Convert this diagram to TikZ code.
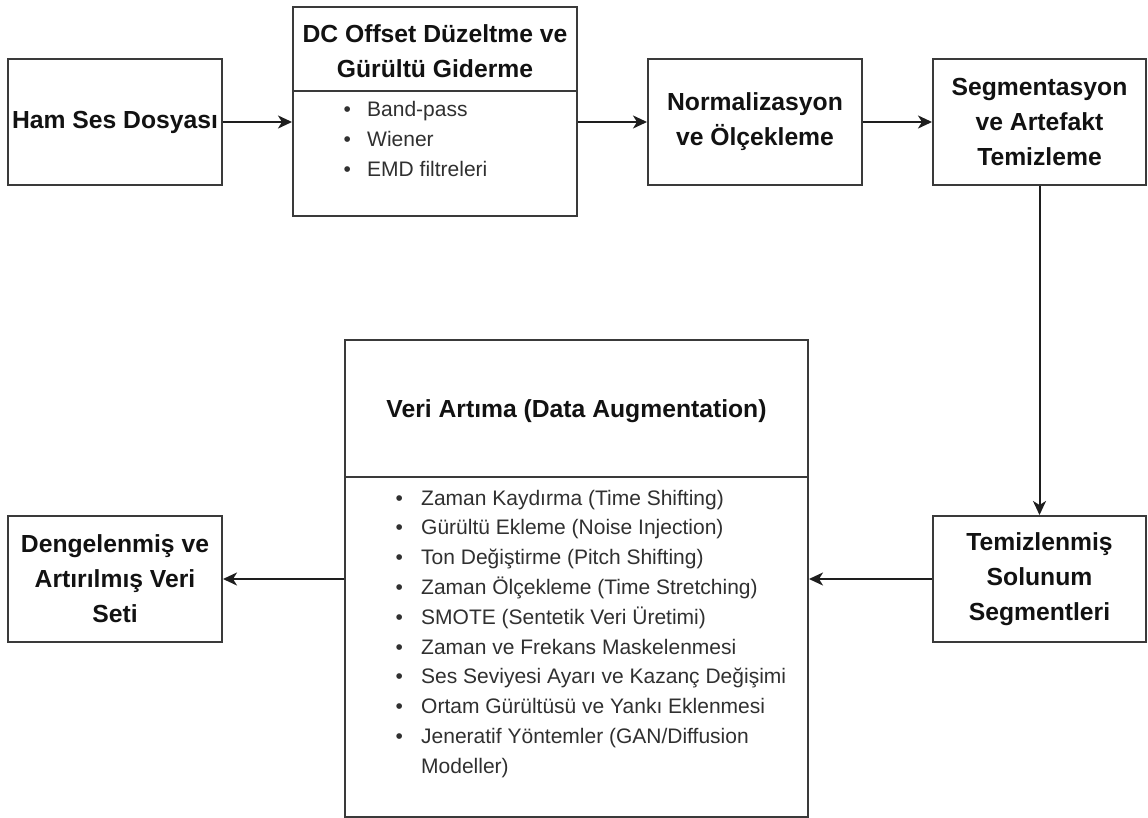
\documentclass[tikz,border=0pt]{standalone}
\usepackage{fontspec}
\setmainfont{Liberation Sans}
\usetikzlibrary{arrows.meta}
\definecolor{boxline}{HTML}{3A3A3A}
\definecolor{headtxt}{HTML}{121212}
\definecolor{bodytxt}{HTML}{303030}
\definecolor{arrowcol}{HTML}{1E1E1E}
\begin{document}
\begin{tikzpicture}[x=1pt,y=-1pt,
  box/.style={rectangle, draw=boxline, line width=2pt, fill=white, inner sep=0pt},
  head/.style={font=\fontsize{24.7}{35}\selectfont\bfseries, text=headtxt, align=center},
  item/.style={font=\fontsize{21}{30}\selectfont, text=bodytxt, anchor=base west, inner sep=0pt},
  flow/.style={draw=arrowcol, line width=2pt, -{Stealth[length=14pt,width=13pt,inset=4pt]}},
  sep/.style={draw=boxline, line width=2pt}]
\useasboundingbox (0,0) rectangle (1148,818);
\fill[white] (0,0) rectangle (1148,818);

% top row
\node[box, head, minimum width=214pt, minimum height=126pt] (ham) at (115,122) {Ham Ses Dosyası};
\node[box, minimum width=284pt, minimum height=209pt] (dc) at (435,111.5) {};
\draw[sep] (dc.west |- 0,91) -- (dc.east |- 0,91);
\node[head] (dchead) at (435,51) {DC Offset Düzeltme ve\\Gürültü Giderme};
\foreach \t [count=\i] in {{Band-pass},{Wiener},{EMD filtreleri}}
  \node[item] (dcb\i) at (343.5,{117+29.8*(\i-1)}) {\makebox[23.5pt][l]{•}\t};
\node[box, head, minimum width=214pt, minimum height=126pt] (norm) at (755,122) {Normalizasyon\\ve Ölçekleme};
\node[box, head, minimum width=213pt, minimum height=126pt] (seg) at (1039.5,122) {Segmentasyon\\ve Artefakt\\Temizleme};

% bottom row
\node[box, head, minimum width=213pt, minimum height=126pt] (tem) at (1039.5,579) {Temizlenmiş\\Solunum\\Segmentleri};
\node[box, minimum width=463pt, minimum height=477pt] (big) at (576.5,578.5) {};
\draw[sep] (big.west |- 0,477) -- (big.east |- 0,477);
\node[head] (bighead) at (576.5,411) {Veri Artıma (Data Augmentation)};
\foreach \t [count=\i] in {{Zaman Kaydırma (Time Shifting)},{Gürültü Ekleme (Noise Injection)},{Ton Değiştirme (Pitch Shifting)},{Zaman Ölçekleme (Time Stretching)},{SMOTE (Sentetik Veri Üretimi)},{Zaman ve Frekans Maskelenmesi},{Ses Seviyesi Ayarı ve Kazanç Değişimi},{Ortam Gürültüsü ve Yankı Eklenmesi},{Jeneratif Yöntemler (GAN/Diffusion}}
  \node[item] (vb\i) at (395.5,{505+29.8*(\i-1)}) {\makebox[25.5pt][l]{•}\t};
\node[item] (vb10) at (421,773) {Modeller)};
\node[box, head, minimum width=214pt, minimum height=126pt] (deng) at (115,579) {Dengelenmiş ve\\Artırılmış Veri\\Seti};

% connectors
\draw[flow] (ham.east) -- (ham.east -| dc.west);
\draw[flow] (norm.west -| dc.east) -- (norm.west);
\draw[flow] (norm.east) -- (seg.west);
\draw[flow] (seg.south) -- (tem.north);
\draw[flow] (tem.west) -- (tem.west -| big.east);
\draw[flow] (big.west |- deng.east) -- (deng.east);
\end{tikzpicture}
\end{document}
